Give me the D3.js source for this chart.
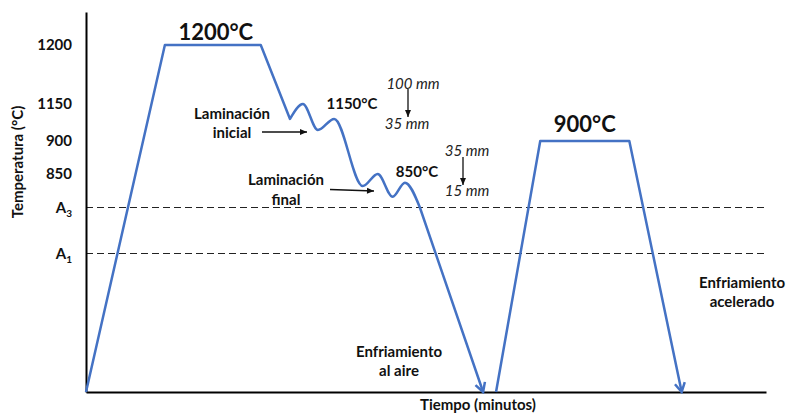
<!DOCTYPE html>
<html>
<head>
<meta charset="utf-8">
<script src="https://cdn.jsdelivr.net/npm/d3@7"></script>
<style>
  html, body { margin: 0; padding: 0; background: #fff; }
  svg { display: block; font-family: Lato, "Open Sans", sans-serif; }
  .lbl { font-weight: bold; fill: #111; }
  .it { font-style: italic; fill: #222; }
</style>
</head>
<body>
<svg id="chart" width="788" height="414"></svg>
<script>
// Temperature levels shown on the vertical axis (A1 / A3 are critical points)
const tickTemps  = [1200, 1150, 900, 850, 800, 727];
const tickLabels = ["1200", "1150", "900", "850", "A3", "A1"];
const criticalTemps = [800, 727];           // A3, A1 dashed reference lines

// Heating to 1200 °C, soaking, first drop
const heatTime = [0, 11.6, 25.7, 30.0];
const heatTemp = [0, 1200, 1200, 1049];

// Rough and finish rolling passes
const rollTime = [30.0, 31.9, 34.1, 36.5, 40.7, 42.9, 45.1, 46.9, 49.1];
const rollTemp = [1049, 1150, 974, 1049, 832, 850, 816, 837, 800];

// Air cooling to room temperature
const airTime = [49.1, 58.4];
const airTemp = [800, 0];

// Reheating to 900 °C and accelerated cooling
const reheatTime = [60.3, 66.8, 79.9, 87.6];
const reheatTemp = [0, 900, 900, 0];

const svg = d3.select("#chart");
const blue = "#4472C4";

const x = d3.scaleLinear().domain([0, 100]).range([86, 766]);
// piecewise scale: the schematic axis is not proportional
const y = d3.scaleLinear()
  .domain([0, 727, 800, 850, 900, 1150, 1200, 1255])
  .range([392, 253.5, 207.5, 174, 141, 104, 45, 12]);

const defs = svg.append("defs");
defs.append("marker")
  .attr("id", "openHead").attr("markerUnits", "userSpaceOnUse")
  .attr("viewBox", "-12 -8 14 16").attr("refX", 0).attr("refY", 0)
  .attr("markerWidth", 14).attr("markerHeight", 16).attr("orient", "auto")
  .append("path").attr("d", "M-9,-5L0,0L-9,5")
  .attr("fill", "none").attr("stroke", blue).attr("stroke-width", 2.5)
  .attr("stroke-linejoin", "miter");
defs.append("marker")
  .attr("id", "smallHead").attr("markerUnits", "userSpaceOnUse")
  .attr("viewBox", "-8 -4 9 8").attr("refX", 0).attr("refY", 0)
  .attr("markerWidth", 9).attr("markerHeight", 8).attr("orient", "auto")
  .append("path").attr("d", "M-7,-3L0,0L-7,3Z").attr("fill", "#111");

// dashed critical-temperature lines
svg.append("g").selectAll("line").data(criticalTemps).join("line")
  .attr("x1", x(0)).attr("x2", x(100))
  .attr("y1", d => y(d)).attr("y2", d => y(d))
  .attr("stroke", "#222").attr("stroke-width", 1)
  .attr("stroke-dasharray", "7,4");

// axes
const yAxis = d3.axisLeft(y).tickValues(tickTemps).tickSize(0).tickPadding(14)
  .tickFormat((d, i) => tickLabels[i]);
const gy = svg.append("g").attr("transform", `translate(${x(0)},0)`).call(yAxis);
gy.select(".domain").attr("stroke", "#000").attr("stroke-width", 2);
gy.selectAll(".tick text")
  .attr("font-family", "Lato, sans-serif").attr("font-size", 15)
  .attr("font-weight", "bold").attr("fill", "#111")
  .each(function(d, i) {
    const lab = tickLabels[i];
    if (lab[0] === "A") {
      const t = d3.select(this).text("");
      t.append("tspan").text("A");
      t.append("tspan").text(lab.slice(1)).attr("font-size", 10).attr("dy", 4);
    }
  });

const xAxis = d3.axisBottom(x).tickValues([]).tickSizeOuter(0);
const gx = svg.append("g").attr("transform", `translate(0,${y(0)})`).call(xAxis);
gx.select(".domain").attr("stroke", "#000").attr("stroke-width", 2);

// temperature profile
const lin = d3.line().x(d => x(d[0])).y(d => y(d[1]));
const smooth = d3.line().x(d => x(d[0])).y(d => y(d[1])).curve(d3.curveMonotoneX);
const zip = (a, b) => a.map((v, i) => [v, b[i]]);
const pathD = lin(zip(heatTime, heatTemp))
  + smooth(zip(rollTime, rollTemp)).replace(/^M/, "L")
  + lin(zip(airTime, airTemp)).replace(/^M/, "L");

svg.append("path").attr("d", pathD)
  .attr("fill", "none").attr("stroke", blue).attr("stroke-width", 2.5)
  .attr("stroke-linejoin", "round").attr("marker-end", "url(#openHead)");
svg.append("path").attr("d", lin(zip(reheatTime, reheatTemp)))
  .attr("fill", "none").attr("stroke", blue).attr("stroke-width", 2.5)
  .attr("stroke-linejoin", "round").attr("marker-end", "url(#openHead)");

// annotations
function label(txt, cx, cy, size, cls) {
  svg.append("text").attr("class", cls || "lbl")
    .attr("x", cx).attr("y", cy).attr("text-anchor", "middle")
    .attr("dominant-baseline", "central").attr("font-size", size).text(txt);
}
function arrow(x1, y1, x2, y2) {
  svg.append("line").attr("x1", x1).attr("y1", y1).attr("x2", x2).attr("y2", y2)
    .attr("stroke", "#111").attr("stroke-width", 1.3).attr("marker-end", "url(#smallHead)");
}

label("1200°C", d3.mean([x(heatTime[1]), x(heatTime[2])]) + 3, y(1200) - 14, 22);
label("900°C", d3.mean([x(reheatTime[1]), x(reheatTime[2])]), y(900) - 18, 22);
label("1150°C", 352, 103, 15);
label("850°C", 417, 171, 15);

label("Laminación", 232, 113, 15);
label("inicial", 232, 132, 15);
arrow(262, 132, 307, 132);
label("Laminación", 286, 179, 15);
label("final", 286, 199, 15);
arrow(330, 189.5, 374, 191);

label("100 mm", 413, 83, 15, "it");
arrow(408, 89, 408, 117);
label("35 mm", 407, 123, 15, "it");
label("35 mm", 467, 150, 15, "it");
arrow(463, 157, 463, 185);
label("15 mm", 467, 190, 15, "it");

label("Enfriamiento", 399, 351, 15);
label("al aire", 399, 370, 15);
label("Enfriamiento", 742, 282, 15);
label("acelerado", 742, 301, 15);

label("Tiempo (minutos)", 478, 404, 15);
svg.append("text").attr("class", "lbl")
  .attr("transform", "translate(17,162) rotate(-90)")
  .attr("text-anchor", "middle").attr("dominant-baseline", "central")
  .attr("font-size", 15).text("Temperatura (°C)");
</script>
</body>
</html>
